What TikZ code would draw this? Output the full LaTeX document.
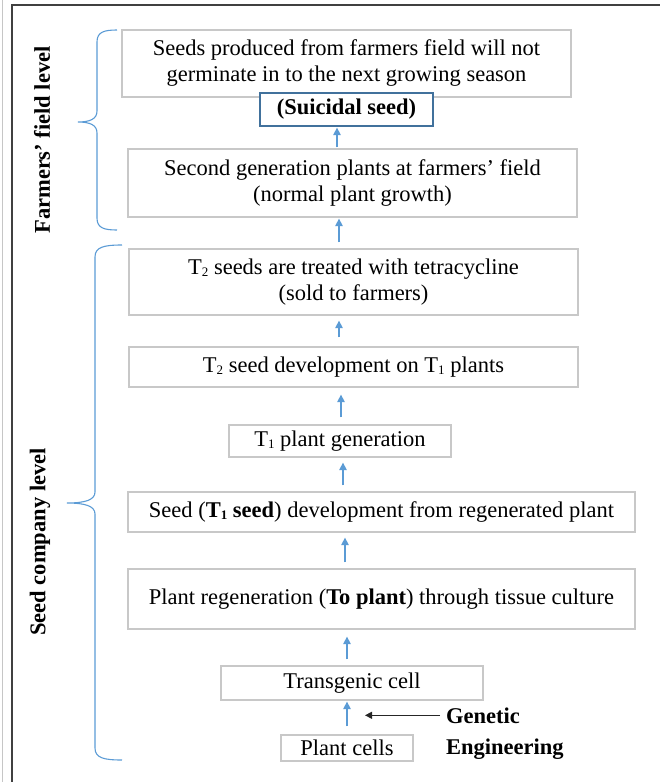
\documentclass[tikz,border=0pt]{standalone}
\usepackage{fontspec}
\setmainfont{Liberation Serif}
\usetikzlibrary{arrows.meta}
\definecolor{boxgray}{HTML}{C8C8C8}
\definecolor{lblue}{HTML}{5B9BD5}
\definecolor{dblue}{HTML}{41719C}
\definecolor{framegray}{HTML}{404040}
\newcommand\subd[1]{\raisebox{-0.2ex}{\fontsize{13}{13}\selectfont #1}}
\begin{document}
\begin{tikzpicture}[x=1pt,y=-1pt,
  box/.style={draw=boxgray, line width=1.3pt, fill=white, inner sep=0pt, align=center,
    font=\fontsize{22.5}{26}\selectfont},
  arr/.style={draw=lblue, line width=1.4pt, -{Triangle[width=7.5pt,length=7.5pt]}},
  garr/.style={draw=black!85, line width=1.2pt, -{Triangle[width=7pt,length=7pt]}},
  brace/.style={draw=lblue, line width=1.1pt},
  lab/.style={font=\fontsize{22.5}{26}\selectfont\bfseries, inner sep=0pt}]
\useasboundingbox (0,0) rectangle (660,782);
% frame
\draw[gray!45, line width=1pt] (2,0) -- (2,782);
\draw[framegray, line width=1.6pt] (12,782) -- (12,5) -- (660,5);

% boxes
\node[box, minimum width=449, minimum height=67] (b1) at (346.5,63.5)
  {Seeds produced from farmers field will not\\germinate in to the next growing season};
\node[box, draw=dblue, minimum width=173, minimum height=33, font=\fontsize{22.5}{26}\selectfont\bfseries] (suic) at (346.5,109.5) {(Suicidal seed)};
\node[box, minimum width=449, minimum height=68] (b3) at (352.5,183)
  {Second generation plants at farmers’ field\\(normal plant growth)};
\node[box, minimum width=449, minimum height=66] (b4) at (353.5,282)
  {T\subd{2} seeds are treated with tetracycline\\(sold to farmers)};
\node[box, minimum width=449, minimum height=40] (b5) at (353.5,367)
  {T\subd{2} seed development on T\subd{1} plants};
\node[box, minimum width=222, minimum height=32] (b6) at (340,441)
  {T\subd{1} plant generation};
\node[box, minimum width=507, minimum height=40] (b7) at (381.5,512)
  {Seed (\textbf{T\subd{1} seed}) development from regenerated plant};
\node[box, minimum width=507, minimum height=60] (b8) at (381.5,599)
  {Plant regeneration (\textbf{To plant}) through tissue culture};
\node[box, minimum width=262, minimum height=34] (b9) at (352,683)
  {Transgenic cell};
\node[box, minimum width=132, minimum height=26] (b10) at (347,748)
  {Plant cells};

% arrow columns
\coordinate (x1) at (337,0);
\coordinate (x2) at (339,0);
\coordinate (x3) at (339,0);
\coordinate (x4) at (341,0);
\coordinate (x5) at (343,0);
\coordinate (x6) at (345,0);
\coordinate (x7) at (347,0);
\coordinate (x8) at (347,0);
\draw[arr, shorten <=1pt, shorten >=1pt] (b3.north -| x1) -- (suic.south -| x1);
\draw[arr, shorten <=6pt, shorten >=1pt] (b4.north -| x2) -- (b3.south -| x2);
\draw[arr, shorten <=9pt, shorten >=5pt] (b5.north -| x3) -- (b4.south -| x3);
\draw[arr, shorten <=7pt, shorten >=7pt] (b6.north -| x4) -- (b5.south -| x4);
\draw[arr, shorten <=6pt, shorten >=5pt] (b7.north -| x5) -- (b6.south -| x5);
\draw[arr, shorten <=6pt, shorten >=5pt] (b8.north -| x6) -- (b7.south -| x6);
\draw[arr, shorten <=6pt, shorten >=7pt] (b9.north -| x7) -- (b8.south -| x7);
\draw[arr, shorten <=8pt, shorten >=1pt] (b10.north -| x8) -- (b9.south -| x8);

% genetic engineering
\node[lab, anchor=base west] (gen1) at (446,723) {Genetic};
\node[lab, anchor=base west] (gen2) at (446,754) {Engineering};
\coordinate (getip) at (365,0);
\draw[garr, shorten <=6pt] (gen1.west) -- (getip |- gen1.west);

% braces
\draw[brace] (117,30) .. controls (104,30) and (97,32) .. (97,42) -- (97,111)
  .. controls (97,119) and (90,122) .. (78,122)
  .. controls (90,122) and (97,125) .. (97,133) -- (97,218)
  .. controls (97,228) and (104,230) .. (117,230);
\draw[brace] (122,245) .. controls (104,245) and (95,247) .. (95,257) -- (95,492)
  .. controls (95,500) and (85,503) .. (67,503)
  .. controls (85,503) and (95,506) .. (95,514) -- (95,748)
  .. controls (95,758) and (104,760) .. (122,760);

% level labels
\node[lab, rotate=90] (farm) at (42,140) {Farmers’ field level};
\node[lab, rotate=90] (comp) at (40,542) {Seed company level};
\end{tikzpicture}
\end{document}
